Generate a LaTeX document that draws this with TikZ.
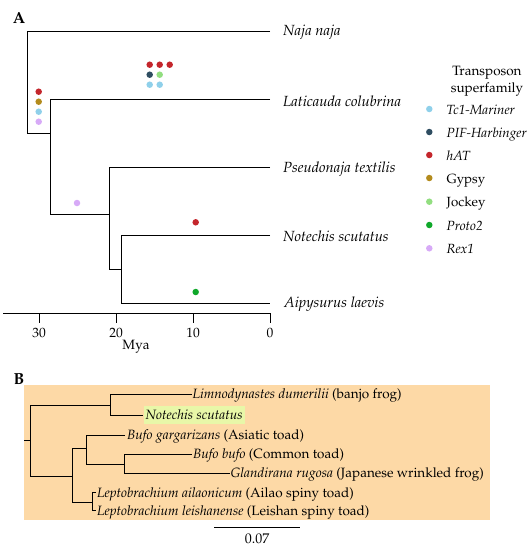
\documentclass[tikz,border=0pt]{standalone}
\usepackage[T1]{fontenc}
\usepackage{mathpazo}
\definecolor{ctc}{HTML}{8FD0EA}
\definecolor{cpif}{HTML}{2E4D61}
\definecolor{chat}{HTML}{C4262C}
\definecolor{cgyp}{HTML}{B38B1D}
\definecolor{cjoc}{HTML}{92DE80}
\definecolor{cpro}{HTML}{0FA82A}
\definecolor{crex}{HTML}{D7AAF7}
\definecolor{peach}{HTML}{FDD9A6}
\definecolor{hilite}{HTML}{E8F7A8}
\tikzset{
  branch/.style={line width=1pt, black},
  te/.style={circle, fill=#1, inner sep=0pt, minimum size=6.5pt},
  tip/.style={anchor=base west, inner sep=0pt, font=\fontsize{14.7}{16}\selectfont\itshape},
  tipb/.style={anchor=base west, inner sep=0pt, font=\fontsize{13.5}{15}\selectfont},
  lab/.style={inner sep=0pt, font=\fontsize{13.5}{15}\selectfont},
  leg/.style={anchor=base west, inner sep=0pt, font=\fontsize{13.3}{15}\selectfont},
  panel/.style={inner sep=0pt, font=\fontsize{16}{18}\selectfont\bfseries}
}
\begin{document}
\begin{tikzpicture}[x=1pt,y=-1pt]
\useasboundingbox (0,0) rectangle (532,550);
% ---------- Panel A ----------
\node[panel] (pA) at (19,18) {A};
\coordinate (tNaja) at (270,31);
\coordinate (tLati) at (270,99);
\coordinate (tPseu) at (270,167);
\coordinate (tNote) at (270,235);
\coordinate (tAipy) at (270,303);
\draw[branch] (tNaja) -- (27,31) -- (27,133) -- (50,133);
\draw[branch] (tLati) -- (50,99) -- (50,214) -- (109,214);
\draw[branch] (tPseu) -- (109,167) -- (109,269) -- (121,269);
\draw[branch] (tNote) -- (121,235) -- (121,303) -- (tAipy);
\node[tip] (lNaja) at (283,35) {Naja naja};
\node[tip] (lLati) at (283,106) {Laticauda colubrina};
\node[tip] (lPseu) at (283,172.5) {Pseudonaja textilis};
\node[tip] (lNote) at (283,241) {Notechis scutatus};
\node[tip] (lAipy) at (284,307.5) {Aipysurus laevis};
% dots
\node[te=chat] (d1) at (149.7,64.7) {};
\node[te=chat] (d2) at (159.7,64.7) {};
\node[te=chat] (d3) at (169.7,64.7) {};
\node[te=cpif] (d4) at (149.7,74.7) {};
\node[te=cjoc] (d5) at (159.7,74.7) {};
\node[te=ctc] (d6) at (149.7,84.7) {};
\node[te=ctc] (d7) at (159.7,84.7) {};
\node[te=chat] (d8) at (38.7,91.7) {};
\node[te=cgyp] (d9) at (38.7,101.7) {};
\node[te=ctc] (d10) at (38.7,111.7) {};
\node[te=crex] (d11) at (38.7,121.7) {};
\node[te=crex] (d12) at (77,203) {};
\node[te=chat] (d13) at (195.7,222.3) {};
\node[te=cpro] (d14) at (195.7,292) {};
% axis
\coordinate (axL) at (3,313);
\coordinate (axR) at (270,313);
\draw[branch] (axL) -- (axR);
\foreach \xx/\lab in {39/30,116/20,193/10,270/0}{
  \draw[branch] (\xx,313) -- (\xx,323);
  \node[lab] at (\xx,332.5) {\lab};
}
\node[lab] (mya) at (136,347) {Mya};
% legend
\node[lab, align=center, font=\fontsize{13.5}{17}\selectfont] (legT) at (487,81.5) {Transposon\\superfamily};
\foreach \yy/\cc/\tt in {109/ctc/\textit{Tc1-Mariner},132/cpif/\textit{PIF-Harbinger},155/chat/\textit{hAT},178/cgyp/Gypsy,201.7/cjoc/Jockey,225/cpro/\textit{Proto2},248.3/crex/\textit{Rex1}}{
  \node[te=\cc] at (429.3,\yy) {};
  \node[leg] at (446.5,\yy+5) {\tt};
}
% ---------- Panel B ----------
\node[panel] (pB) at (19,379) {B};
\fill[peach] (24,385) rectangle (490,520);
\fill[hilite] (144,405.7) rectangle (245,424.3);
\coordinate (bLim) at (192,394.3);
\coordinate (bNot) at (143,415);
\coordinate (bBg) at (125,435);
\coordinate (bBb) at (192,454.3);
\coordinate (bGl) at (230,473.3);
\coordinate (bLa) at (96,492.5);
\coordinate (bLl) at (96,510.7);
\draw[branch] (24,440) -- (30,440);
\draw[branch] (110,405.7) -- (30,405.7) -- (30,476) -- (72,476);
\draw[branch] (bLim) -- (110,394.3) -- (110,415) -- (bNot);
\draw[branch] (86,448.3) -- (72,448.3) -- (72,502.7) -- (92,502.7);
\draw[branch] (bBg) -- (86,435) -- (86,464) -- (124,464);
\draw[branch] (bBb) -- (124,454.3) -- (124,473.3) -- (bGl);
\draw[branch] (bLa) -- (92,492.5) -- (92,510.7) -- (bLl);
\node[tipb] (nLim) at (192.5,398.8) {\textit{Limnodynastes dumerilii} (banjo frog)};
\node[tipb] (nNot) at (145.5,419.5) {\textit{Notechis scutatus}};
\node[tipb] (nBg) at (127,439.5) {\textit{Bufo gargarizans} (Asiatic toad)};
\node[tipb] (nBb) at (193,458.8) {\textit{Bufo bufo} (Common toad)};
\node[tipb] (nGl) at (230.5,477.8) {\textit{Glandirana rugosa} (Japanese wrinkled frog)};
\node[tipb] (nLa) at (97,497) {\textit{Leptobrachium ailaonicum} (Ailao spiny toad)};
\node[tipb] (nLl) at (97,515.2) {\textit{Leptobrachium leishanense} (Leishan spiny toad)};
\coordinate (sbL) at (214,527.7);
\coordinate (sbR) at (300,527.7);
\draw[branch] (sbL) -- (sbR);
\node[lab, font=\fontsize{14}{16}\selectfont] (sbT) at (257,539) {0.07};
\end{tikzpicture}
\end{document}
